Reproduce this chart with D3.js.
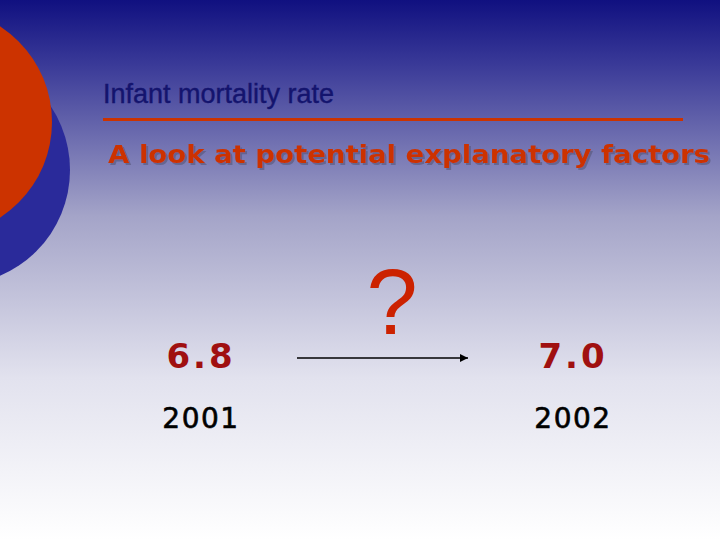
<!DOCTYPE html><html><head><meta charset="utf-8"><script src="https://cdn.jsdelivr.net/npm/d3@7"></script>
<style>body{margin:0}svg{display:block}</style></head><body><script>
const years=["2001","2002"];
const rates=[6.8,7.0];
const title="Infant mortality rate";
const subtitle="A look at potential explanatory factors";
const W=720,H=540;
const svg=d3.select("body").append("svg").attr("width",W).attr("height",H);
const defs=svg.append("defs");
const g=defs.append("linearGradient").attr("id","bg").attr("x1",0).attr("y1",0).attr("x2",0).attr("y2",1);
[[0,"#101080"],[0.12,"#3a3a98"],[0.4,"#a4a4c8"],[0.7,"#e2e2ee"],[1,"#ffffff"]].forEach(s=>g.append("stop").attr("offset",s[0]).attr("stop-color",s[1]));
const f=defs.append("filter").attr("id","sh").attr("x","-5%").attr("y","-30%").attr("width","110%").attr("height","160%");
f.append("feDropShadow").attr("dx",2).attr("dy",2).attr("stdDeviation",0.5).attr("flood-color","#555577").attr("flood-opacity",0.6);
svg.append("rect").attr("width",W).attr("height",H).attr("fill","url(#bg)");
svg.append("circle").attr("cx",-45).attr("cy",170).attr("r",115).attr("fill","#2a2a9a");
svg.append("circle").attr("cx",-62).attr("cy",122).attr("r",114).attr("fill","#cc3300");
svg.append("text").attr("x",103).attr("y",103).attr("font-family","Liberation Sans, Arial").attr("font-size",27).attr("stroke","#14146e").attr("stroke-width",0.4).attr("fill","#14146e").text(title);
svg.append("rect").attr("x",103).attr("y",118).attr("width",580).attr("height",3).attr("fill","#cc3300");
svg.append("text").attr("x",108).attr("y",163).attr("fill","#cc3300").attr("filter","url(#sh)")
 .attr("font-family","DejaVu Sans").attr("font-weight","bold").attr("font-size",24).attr("textLength",602).attr("lengthAdjust","spacingAndGlyphs").text(subtitle);
const x=d3.scalePoint().domain(years).range([201,573]);
svg.selectAll(".v").data(years).enter().append("text").attr("x",d=>x(d)).attr("y",368).attr("text-anchor","middle")
 .attr("font-family","DejaVu Sans").attr("font-weight","bold").attr("font-size",34).attr("fill","#a01010").attr("letter-spacing",3)
 .text((d,i)=>d3.format(".1f")(rates[i]));
svg.selectAll(".y").data(years).enter().append("text").attr("x",d=>x(d)).attr("y",428).attr("text-anchor","middle")
 .attr("font-family","DejaVu Sans").attr("font-size",28).attr("letter-spacing",1.5).attr("stroke","#000").attr("stroke-width",0.6).attr("fill","#000").text(d=>d);
defs.append("marker").attr("id","ah").attr("viewBox","0 0 10 10").attr("refX",10).attr("refY",5).attr("markerWidth",10).attr("markerHeight",8).attr("markerUnits","userSpaceOnUse").attr("orient","auto")
 .append("path").attr("d","M0,0L10,5L0,10z").attr("fill","#000");
svg.append("line").attr("x1",297).attr("x2",468).attr("y1",358).attr("y2",358).attr("stroke","#000").attr("stroke-width",1.3).attr("marker-end","url(#ah)");
svg.append("text").attr("x",392).attr("y",334).attr("text-anchor","middle").attr("font-family","Liberation Sans, Arial").attr("font-size",92).attr("fill","#cc2200").text("?");
</script></body></html>
